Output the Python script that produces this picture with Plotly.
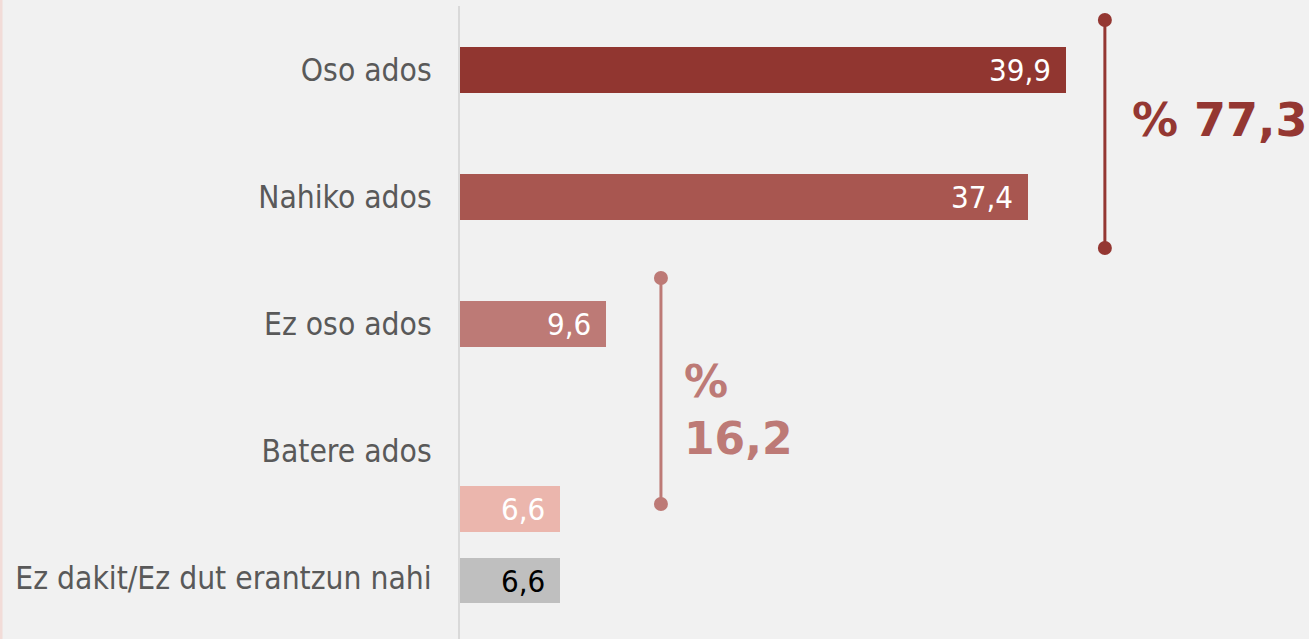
import plotly.graph_objects as go

categories = ["Oso ados", "Nahiko ados", "Ez oso ados", "Batere ados", "Ez dakit/Ez dut erantzun nahi"]
values = [39.9, 37.4, 9.6, 6.6, 6.6]
bar_colors = ["#913630", "#a85650", "#bd7a76", "#ebb6ad", "#bfbfbf"]
value_text_colors = ["white", "white", "white", "white", "black"]
bar_offsets = [0.0, 0.0, 0.0, 0.457, 0.02]  # shift of bar from its label row (Batere ados bar sits lower)

group_labels = ["% 77,3", "%<br>16,2"]
group_colors = ["#943732", "#bd7a76"]

FONT = "DejaVu Sans Condensed, DejaVu Sans, sans-serif"
BW = 0.36

fig = go.Figure()
fig.add_trace(go.Bar(
    y=categories, x=values, orientation="h",
    marker=dict(color=bar_colors, line=dict(width=0)),
    width=BW,
    offset=[o - BW / 2 for o in bar_offsets],
    hoverinfo="skip",
))

ann = []
for i, (c, v) in enumerate(zip(categories, values)):
    ann.append(dict(x=v, y=i + bar_offsets[i], xref="x", yref="y", text=f"{v:.1f}".replace(".", ","),
                    showarrow=False, xanchor="right", yanchor="middle", xshift=-13,
                    font=dict(family=FONT, size=31, color=value_text_colors[i])))

# bracket 1: top two categories
x1 = 42.46
fig.add_trace(go.Scatter(x=[x1, x1], y=[-0.394, 1.402], mode="lines+markers",
                         line=dict(color=group_colors[0], width=3),
                         marker=dict(size=14, color=group_colors[0]), hoverinfo="skip", yaxis="y2"))
x2 = 13.23
fig.add_trace(go.Scatter(x=[x2, x2], y=[1.638, 3.417], mode="lines+markers",
                         line=dict(color=group_colors[1], width=3),
                         marker=dict(size=14, color=group_colors[1]), hoverinfo="skip", yaxis="y2"))

ann.append(dict(x=44.1, y=0.394, xref="x", yref="y2", text=f"<b>{group_labels[0]}</b>", showarrow=False,
                xanchor="left", yanchor="middle", font=dict(family="DejaVu Sans", size=46, color=group_colors[0])))
ann.append(dict(x=14.6, y=2.677, xref="x", yref="y2", text=f"<b>{group_labels[1]}</b>", showarrow=False,
                xanchor="left", yanchor="middle", align="left",
                font=dict(family="DejaVu Sans", size=44, color=group_colors[1])))

fig.update_layout(
    width=1309, height=639,
    margin=dict(l=460, r=0, t=6, b=0),
    paper_bgcolor="#f1f1f1", plot_bgcolor="#f1f1f1",
    showlegend=False,
    bargap=0,
    xaxis=dict(range=[0, 55.9], visible=False, fixedrange=True),
    yaxis=dict(type="category", categoryorder="array", categoryarray=categories,
               range=[4.48, -0.504], showgrid=False, zeroline=False,
               showline=True, linecolor="#d9d9d9", linewidth=2,
               ticks="", ticklabelstandoff=20,
               tickfont=dict(family=FONT, size=31.5, color="#595959")),
    yaxis2=dict(overlaying="y", range=[4.48, -0.504], visible=False),
    annotations=ann,
    shapes=[dict(type="line", xref="paper", yref="paper", x0=-459/849, x1=-459/849, y0=0, y1=1.01,
                 line=dict(color="#f2dcd8", width=3))],
)

fig.write_html("out.html", config={"displayModeBar": False},
               post_script="document.body.style.margin='0';document.body.style.overflow='hidden';")
